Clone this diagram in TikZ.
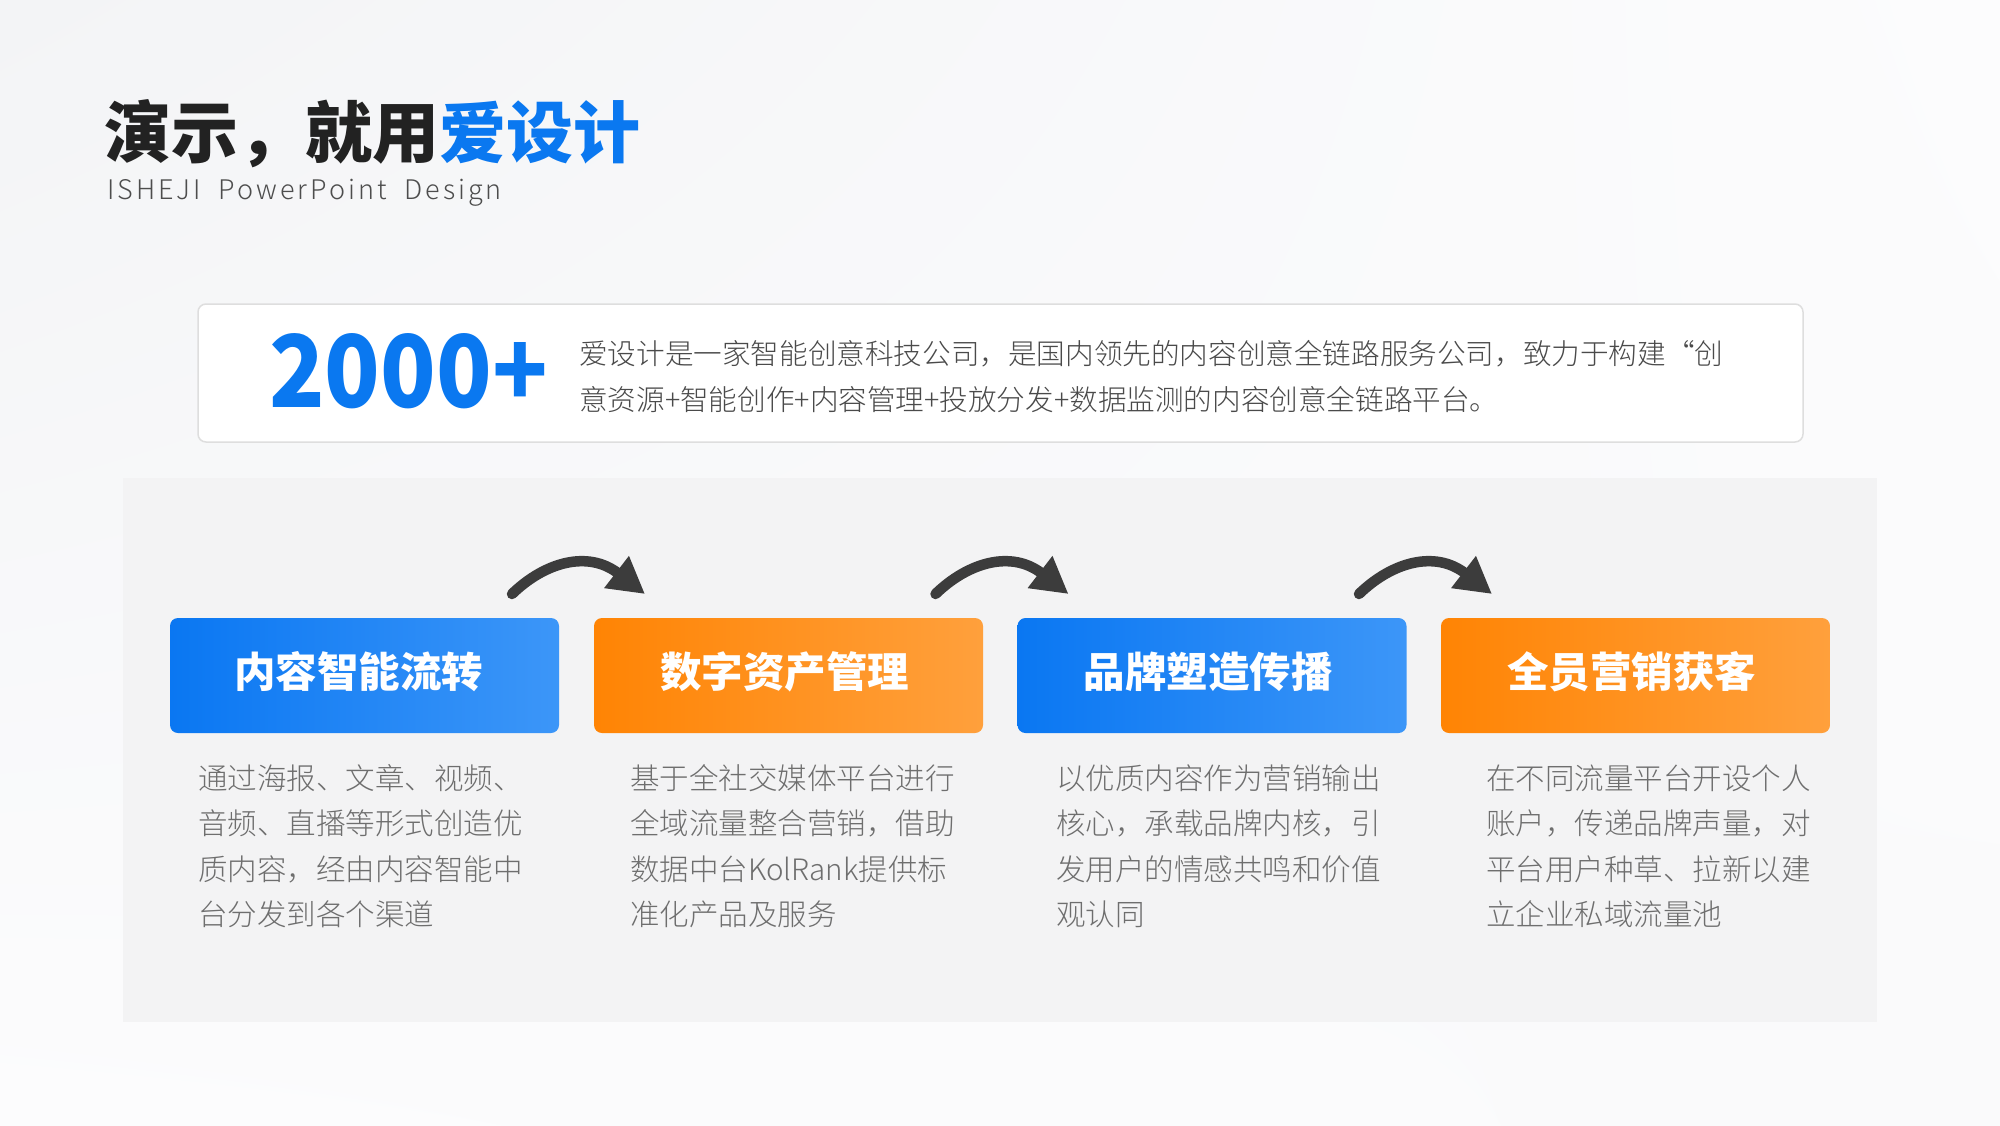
\documentclass[tikz,border=0pt]{standalone}
\usepackage{fontspec}
\usetikzlibrary{arrows.meta,shadings}
\setmainfont{Noto Sans CJK SC}
\newfontfamily\cjklight{Noto Sans CJK SC Light}
\definecolor{bgA}{HTML}{F3F4F6}
\definecolor{bgB}{HTML}{FAFAFB}
\definecolor{bgC}{HTML}{FCFCFD}
\definecolor{panel}{HTML}{F3F3F4}
\definecolor{cardline}{HTML}{DEDEDE}
\definecolor{darktxt}{HTML}{222222}
\definecolor{brand}{HTML}{0A78F0}
\definecolor{blueL}{HTML}{0A77F2}
\definecolor{blueR}{HTML}{3C96F8}
\definecolor{orL}{HTML}{FF8404}
\definecolor{orR}{HTML}{FFA03C}
\definecolor{arrowc}{HTML}{3C3C3C}
\definecolor{desctxt}{HTML}{6E6E6E}
\definecolor{cardtxt}{HTML}{4A4A4A}
\definecolor{subtxt}{HTML}{4D4D4D}
\begin{document}
\begin{tikzpicture}[x=1pt,y=-1pt,
  box/.style={minimum width=389pt, minimum height=115pt, rounded corners=8pt, inner sep=0pt},
  bluebox/.style={box, left color=blueL, right color=blueR},
  orangebox/.style={box, left color=orL, right color=orR},
  boxlabel/.style={inner sep=0pt, text=white, font=\fontsize{41.5}{41.5}\selectfont\bfseries},
  desc/.style={anchor=base west, inner sep=0pt, align=left, text=desctxt, font=\cjklight\fontsize{29.5}{45.5}\selectfont},
  flow/.style={line width=10.5pt, draw=arrowc, line cap=round, -{Triangle[length=36pt,width=38pt]}}
]
\useasboundingbox (0,0) rectangle (2000,1125);
\shade[upper left=bgA, upper right=bgC, lower left=bgC, lower right=bgB] (0,0) rectangle (2000,1125);

% title
\node[anchor=base west, inner sep=0pt, font=\fontsize{67}{70}\selectfont\bfseries] (title) at (104,157)
  {\textcolor{darktxt}{演示，就用}\textcolor{brand}{爱设计}};
\node[anchor=base west, inner sep=0pt, text=subtxt, font=\cjklight\fontsize{27}{30}\selectfont\addfontfeature{LetterSpace=11}] (subtitle) at (107,199.5)
  {ISHEJI\ \ PowerPoint\ \ Design};

% card
\node[draw=cardline, line width=1.5pt, fill=white, rounded corners=8pt, minimum width=1605pt, minimum height=138pt, inner sep=0pt] (card) at (1000.5,373) {};
\node[anchor=base west, inner sep=0pt, text=brand, font=\fontsize{100}{100}\selectfont\bfseries] (num) at (269,407) {\scalebox{0.915}[1]{2000+}};
\node[anchor=base west, inner sep=0pt, align=left, text=cardtxt, font=\cjklight\fontsize{28.6}{46}\selectfont] (intro) at (579,410)
  {爱设计是一家智能创意科技公司，是国内领先的内容创意全链路服务公司，致力于构建“创\\意资源+智能创作+内容管理+投放分发+数据监测的内容创意全链路平台。};

% panel
\fill[panel] (123,478) rectangle (1877,1022);

% boxes
\node[bluebox] (b1) at (364.5,675.5) {};
\node[orangebox] (b2) at (788.5,675.5) {};
\node[bluebox] (b3) at (1212,675.5) {};
\node[orangebox] (b4) at (1635.5,675.5) {};
\node[boxlabel] (l1) at ([xshift=-6pt,yshift=4pt]b1.center) {内容智能流转};
\node[boxlabel] (l2) at ([xshift=-4pt,yshift=4pt]b2.center) {数字资产管理};
\node[boxlabel] (l3) at ([xshift=-4pt,yshift=4pt]b3.center) {品牌塑造传播};
\node[boxlabel] (l4) at ([xshift=-4pt,yshift=4pt]b4.center) {全员营销获客};

% arrows
\foreach \c/\i in {576.5/1, 1000/2, 1423.5/3}{
  \begin{scope}[shift={(\c,0)}]
    \coordinate (s\i) at (-64.5,594);
    \coordinate (e\i) at (68.5,594);
    \draw[flow] (s\i) .. controls (-31.5,562) and (11.5,550) .. (e\i);
  \end{scope}
}

% descriptions (anchor at the last line's baseline)
\node[desc] (d1) at (198,925.5) {通过海报、文章、视频、\\音频、直播等形式创造优\\质内容，经由内容智能中\\台分发到各个渠道};
\node[desc] (d2) at (630,925.5) {基于全社交媒体平台进行\\全域流量整合营销，借助\\数据中台KolRank提供标\\准化产品及服务};
\node[desc] (d3) at (1056,925.5) {以优质内容作为营销输出\\核心，承载品牌内核，引\\发用户的情感共鸣和价值\\观认同};
\node[desc] (d4) at (1486,925.5) {在不同流量平台开设个人\\账户，传递品牌声量，对\\平台用户种草、拉新以建\\立企业私域流量池};
\end{tikzpicture}
\end{document}
